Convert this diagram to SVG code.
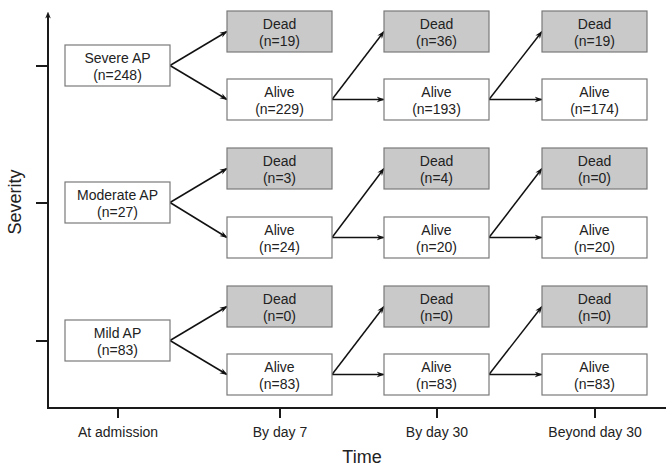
<svg xmlns="http://www.w3.org/2000/svg" width="666" height="466" viewBox="0 0 666 466">
<style>
.box{stroke:#7a7a7a;stroke-width:1.2;fill:#fff}
.dead{fill:#c9c9c9}
.t{font-family:"Liberation Sans",Arial,sans-serif;font-size:14px;fill:#222;text-anchor:middle}
.ax{stroke:#1a1a1a;stroke-width:2;fill:none}
.c{stroke:#111;stroke-width:1.5;fill:none;marker-end:url(#ah)}
.lab{font-family:"Liberation Sans",Arial,sans-serif;font-size:18px;fill:#222;text-anchor:middle}
</style>
<defs>
<marker id="ah" viewBox="0 0 10 10" refX="9" refY="5" markerWidth="8" markerHeight="8" orient="auto" markerUnits="userSpaceOnUse">
<path d="M0,1.5 L10,5 L0,8.5 L3,5 Z" fill="#111"/>
</marker>
<marker id="axh" viewBox="0 0 10 10" refX="5" refY="5" markerWidth="7" markerHeight="7" orient="auto" markerUnits="userSpaceOnUse">
<path d="M0,1 L10,5 L0,9 L3,5 Z" fill="#1a1a1a"/>
</marker>
</defs>
<g id="axes">
<line class="ax" x1="48" y1="409" x2="48" y2="15" marker-end="url(#axh)"/>
<line class="ax" x1="47" y1="408" x2="666" y2="408"/>
<line class="ax" x1="36" y1="66" x2="48" y2="66"/>
<line class="ax" x1="36" y1="203" x2="48" y2="203"/>
<line class="ax" x1="36" y1="341" x2="48" y2="341"/>
<line class="ax" x1="118" y1="408" x2="118" y2="418"/>
<line class="ax" x1="280" y1="408" x2="280" y2="418"/>
<line class="ax" x1="437" y1="408" x2="437" y2="418"/>
<line class="ax" x1="595" y1="408" x2="595" y2="418"/>
<text class="t" x="118" y="437">At admission</text>
<text class="t" x="280" y="437">By day 7</text>
<text class="t" x="437" y="437">By day 30</text>
<text class="t" x="595" y="437">Beyond day 30</text>
<text class="lab" x="362" y="463">Time</text>
<text class="lab" transform="translate(21,202) rotate(-90)">Severity</text>
</g>
<g id="connectors">
<path class="c" d="M170,65.5 L227,31.5"/>
<path class="c" d="M170,65.5 L227,99.5"/>
<path class="c" d="M332,99.5 L384,31.5"/>
<path class="c" d="M332,99.5 L384,99.5"/>
<path class="c" d="M489,99.5 L542,31.5"/>
<path class="c" d="M489,99.5 L542,99.5"/>
<path class="c" d="M170,202.5 L227,168.5"/>
<path class="c" d="M170,202.5 L227,237.5"/>
<path class="c" d="M332,237.5 L384,168.5"/>
<path class="c" d="M332,237.5 L384,237.5"/>
<path class="c" d="M489,237.5 L542,168.5"/>
<path class="c" d="M489,237.5 L542,237.5"/>
<path class="c" d="M170,340.5 L227,306.5"/>
<path class="c" d="M170,340.5 L227,374.5"/>
<path class="c" d="M332,374.5 L384,306.5"/>
<path class="c" d="M332,374.5 L384,374.5"/>
<path class="c" d="M489,374.5 L542,306.5"/>
<path class="c" d="M489,374.5 L542,374.5"/>
</g>
<g id="severe"><rect class="box" x="65" y="45" width="105" height="41"/><text class="t" x="117.5" y="63">Severe AP</text><text class="t" x="117.5" y="80">(n=248)</text></g>
<g id="moderate"><rect class="box" x="65" y="182" width="105" height="41"/><text class="t" x="117.5" y="200">Moderate AP</text><text class="t" x="117.5" y="217">(n=27)</text></g>
<g id="mild"><rect class="box" x="65" y="320" width="105" height="41"/><text class="t" x="117.5" y="338">Mild AP</text><text class="t" x="117.5" y="355">(n=83)</text></g>

<g id="s-d7-dead"><rect class="box dead" x="227" y="11" width="105" height="41"/><text class="t" x="279.5" y="29">Dead</text><text class="t" x="279.5" y="46">(n=19)</text></g>
<g id="s-d7-alive"><rect class="box" x="227" y="79" width="105" height="41"/><text class="t" x="279.5" y="97">Alive</text><text class="t" x="279.5" y="114">(n=229)</text></g>
<g id="s-d30-dead"><rect class="box dead" x="384" y="11" width="105" height="41"/><text class="t" x="436.5" y="29">Dead</text><text class="t" x="436.5" y="46">(n=36)</text></g>
<g id="s-d30-alive"><rect class="box" x="384" y="79" width="105" height="41"/><text class="t" x="436.5" y="97">Alive</text><text class="t" x="436.5" y="114">(n=193)</text></g>
<g id="s-b30-dead"><rect class="box dead" x="542" y="11" width="105" height="41"/><text class="t" x="594.5" y="29">Dead</text><text class="t" x="594.5" y="46">(n=19)</text></g>
<g id="s-b30-alive"><rect class="box" x="542" y="79" width="105" height="41"/><text class="t" x="594.5" y="97">Alive</text><text class="t" x="594.5" y="114">(n=174)</text></g>

<g id="m-d7-dead"><rect class="box dead" x="227" y="148" width="105" height="41"/><text class="t" x="279.5" y="166">Dead</text><text class="t" x="279.5" y="183">(n=3)</text></g>
<g id="m-d7-alive"><rect class="box" x="227" y="217" width="105" height="41"/><text class="t" x="279.5" y="235">Alive</text><text class="t" x="279.5" y="252">(n=24)</text></g>
<g id="m-d30-dead"><rect class="box dead" x="384" y="148" width="105" height="41"/><text class="t" x="436.5" y="166">Dead</text><text class="t" x="436.5" y="183">(n=4)</text></g>
<g id="m-d30-alive"><rect class="box" x="384" y="217" width="105" height="41"/><text class="t" x="436.5" y="235">Alive</text><text class="t" x="436.5" y="252">(n=20)</text></g>
<g id="m-b30-dead"><rect class="box dead" x="542" y="148" width="105" height="41"/><text class="t" x="594.5" y="166">Dead</text><text class="t" x="594.5" y="183">(n=0)</text></g>
<g id="m-b30-alive"><rect class="box" x="542" y="217" width="105" height="41"/><text class="t" x="594.5" y="235">Alive</text><text class="t" x="594.5" y="252">(n=20)</text></g>

<g id="l-d7-dead"><rect class="box dead" x="227" y="286" width="105" height="41"/><text class="t" x="279.5" y="304">Dead</text><text class="t" x="279.5" y="321">(n=0)</text></g>
<g id="l-d7-alive"><rect class="box" x="227" y="354" width="105" height="41"/><text class="t" x="279.5" y="372">Alive</text><text class="t" x="279.5" y="389">(n=83)</text></g>
<g id="l-d30-dead"><rect class="box dead" x="384" y="286" width="105" height="41"/><text class="t" x="436.5" y="304">Dead</text><text class="t" x="436.5" y="321">(n=0)</text></g>
<g id="l-d30-alive"><rect class="box" x="384" y="354" width="105" height="41"/><text class="t" x="436.5" y="372">Alive</text><text class="t" x="436.5" y="389">(n=83)</text></g>
<g id="l-b30-dead"><rect class="box dead" x="542" y="286" width="105" height="41"/><text class="t" x="594.5" y="304">Dead</text><text class="t" x="594.5" y="321">(n=0)</text></g>
<g id="l-b30-alive"><rect class="box" x="542" y="354" width="105" height="41"/><text class="t" x="594.5" y="372">Alive</text><text class="t" x="594.5" y="389">(n=83)</text></g>
</svg>
